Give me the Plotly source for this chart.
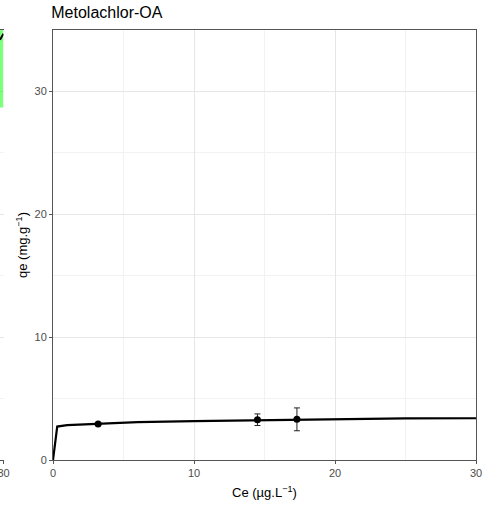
import plotly.graph_objects as go

# Observed data (Metolachlor-OA)
ce_obs = [3.2, 14.5, 17.3]
qe_obs = [2.93, 3.28, 3.31]
qe_err = [0.12, 0.47, 0.93]

# Fitted isotherm curve
ce_fit = [0, 0.3, 1, 3, 6, 10, 15, 20, 22.5, 25, 30]
qe_fit = [0, 2.72, 2.84, 2.96, 3.08, 3.17, 3.25, 3.30, 3.36, 3.38, 3.40]

# Neighbouring (cropped) panel fragment
ce_left = [29.0, 30.0]
qe_left_low = [28.7, 28.7]
qe_left_high = [35, 35]
qe_left_line = [34.2, 34.7]

x_ticks = [0, 10, 20, 30]
y_ticks = [0, 10, 20, 30]

W, H = 492, 506
ml, mr, mt, mb = 0, 16, 30, 46
pw = W - ml - mr
ph = H - mt - mb

fig = go.Figure()

# left cropped panel
fig.add_trace(go.Scatter(x=ce_left, y=qe_left_low, mode="lines", line=dict(width=0),
                         showlegend=False, xaxis="x2", yaxis="y2", hoverinfo="skip"))
fig.add_trace(go.Scatter(x=ce_left, y=qe_left_high, mode="lines", line=dict(width=0),
                         fill="tonexty", fillcolor="rgba(0,255,0,0.5)",
                         showlegend=False, xaxis="x2", yaxis="y2", hoverinfo="skip"))
fig.add_trace(go.Scatter(x=ce_left, y=qe_left_line, mode="lines", line=dict(color="black", width=2),
                         showlegend=False, xaxis="x2", yaxis="y2", hoverinfo="skip"))

# main panel
fig.add_trace(go.Scatter(x=ce_fit, y=qe_fit, mode="lines",
                         line=dict(color="black", width=2.2), showlegend=False))
fig.add_trace(go.Scatter(x=ce_obs, y=qe_obs, mode="markers",
                         marker=dict(color="black", size=7),
                         error_y=dict(type="data", array=qe_err, color="#222222",
                                      thickness=1, width=3),
                         showlegend=False))

axis_common = dict(
    showline=True, linecolor="#555555", linewidth=1, mirror=True,
    ticks="outside", ticklen=3, tickcolor="#555555",
    tickfont=dict(family="Liberation Sans, Arial, sans-serif", size=11, color="#4D4D4D"),
    showgrid=True, gridcolor="#E6E6E6", gridwidth=1, zeroline=False,
    automargin=False, ticklabeloverflow="allow",
)

fig.update_layout(
    width=W, height=H,
    margin=dict(l=ml, r=mr, t=mt, b=mb, autoexpand=False),
    plot_bgcolor="white", paper_bgcolor="white",
    font=dict(family="Liberation Sans, Arial, sans-serif", color="black"),
    title=dict(text="Metolachlor-OA", x=53 / W, xanchor="left", xref="paper",
               y=1 - 12 / H, yanchor="middle", yref="container",
               font=dict(size=16, color="black")),
    xaxis=dict(domain=[53 / pw, 1], range=[0, 30], tickvals=x_ticks,
               ticktext=[str(v) for v in x_ticks],
               minor=dict(dtick=5, showgrid=True, gridcolor="#F2F2F2"),
               **axis_common),
    yaxis=dict(range=[0, 35], tickvals=y_ticks, ticktext=[str(v) for v in y_ticks],
               minor=dict(dtick=5, showgrid=True, gridcolor="#F2F2F2"),
               **axis_common),
    xaxis2=dict(domain=[0, 3.5 / pw], range=[29.0, 30], tickvals=[30], ticktext=["30"],
                anchor="y2", **axis_common),
    yaxis2=dict(range=[0, 35], tickvals=y_ticks, showticklabels=False, ticks="",
                anchor="x2", showline=True, linecolor="#BBBBBB", mirror=False,
                showgrid=True, gridcolor="#E6E6E6", zeroline=False, automargin=False,
                minor=dict(dtick=5, showgrid=True, gridcolor="#F2F2F2")),
    annotations=[
        dict(text="qe (mg.g<sup>−1</sup>)", textangle=-90, showarrow=False,
             xref="paper", yref="paper", x=22 / pw, y=0.5,
             xanchor="center", yanchor="middle", font=dict(size=13)),
        dict(text="Ce (µg.L<sup>−1</sup>)", showarrow=False,
             xref="paper", yref="paper", x=264.5 / pw, y=(460 - 492) / ph,
             xanchor="center", yanchor="middle", font=dict(size=13)),
    ],
)

fig.write_html("out.html", config={"displayModeBar": False},
               post_script="document.body.style.margin='0';document.body.style.padding='0';")
